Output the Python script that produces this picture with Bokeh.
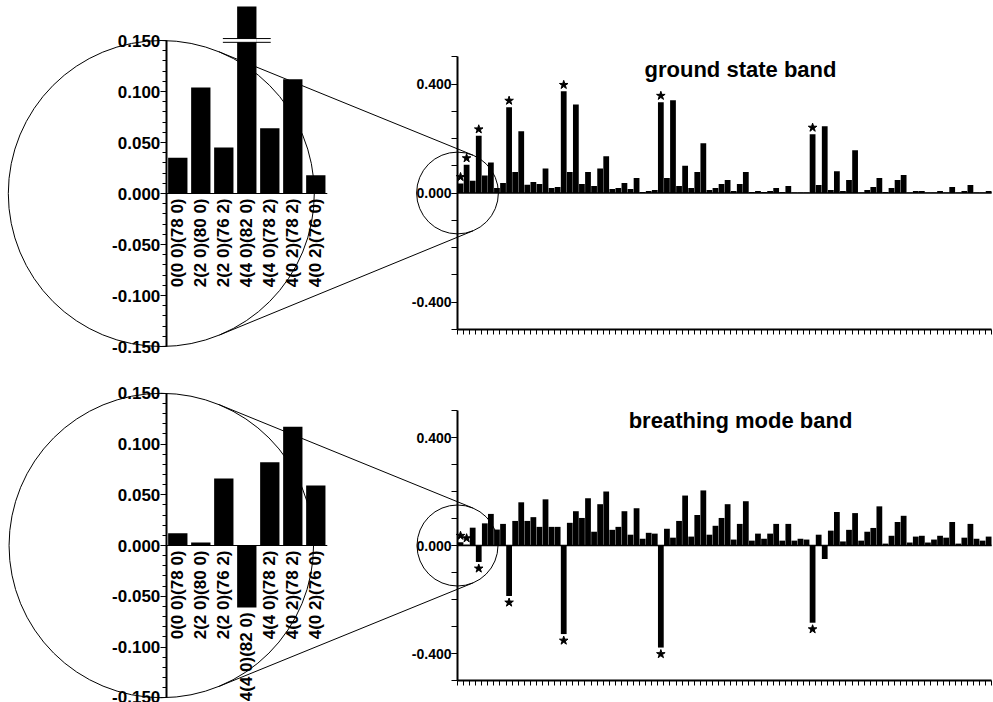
import numpy as np
from bokeh.plotting import figure
from bokeh.models import Range1d, LinearAxis, FixedTicker, PrintfTickFormatter, CustomJSTickFormatter
from bokeh.core.properties import value
from bokeh.embed import file_html
from bokeh.resources import INLINE

# ---------------- data ----------------
ground = [0.035, 0.104, 0.045, 0.210, 0.064, 0.112, 0.018, 0.037, 0.315, 0.077,
          0.227, 0.030, 0.040, 0.033, 0.090, 0.018, 0.022, 0.373, 0.077, 0.325,
          0.033, 0.077, 0.026, 0.090, 0.135, 0.015, 0.018, 0.037, 0.015, 0.055,
          0.004, 0.007, 0.011, 0.333, 0.055, 0.340, 0.026, 0.100, 0.018, 0.077,
          0.183, 0.011, 0.018, 0.033, 0.048, 0.007, 0.033, 0.077, 0.004, 0.007,
          0.004, 0.007, 0.018, 0.004, 0.026, 0.002, 0.002, 0.002, 0.216, 0.029,
          0.245, 0.011, 0.080, 0.007, 0.048, 0.157, 0.002, 0.011, 0.022, 0.055,
          0.004, 0.018, 0.048, 0.066, 0.002, 0.007, 0.007, 0.002, 0.002, 0.007,
          0.002, 0.022, 0.002, 0.007, 0.029, 0.002, 0.002, 0.007]

breathing = [0.012, 0.003, 0.066, -0.061, 0.082, 0.117, 0.059, 0.080, -0.187, 0.091,
             0.160, 0.091, 0.105, 0.069, 0.171, 0.069, 0.069, -0.328, 0.084, 0.127,
             0.102, 0.175, 0.051, 0.153, 0.200, 0.058, 0.069, 0.127, 0.040, 0.138,
             0.025, 0.047, 0.044, -0.378, 0.062, 0.029, 0.091, 0.185, 0.033, 0.113,
             0.204, 0.040, 0.073, 0.102, 0.153, 0.022, 0.080, 0.164, 0.018, 0.044,
             0.025, 0.044, 0.080, 0.018, 0.080, 0.018, 0.025, 0.022, -0.286, 0.040,
             -0.050, 0.055, 0.124, 0.015, 0.058, 0.120, 0.018, 0.051, 0.065, 0.145,
             0.007, 0.036, 0.087, 0.110, 0.011, 0.033, 0.036, 0.011, 0.022, 0.036,
             0.029, 0.087, 0.007, 0.029, 0.080, 0.025, 0.018, 0.033]

star_idx = [0, 1, 3, 8, 17, 33, 58]

zoom_labels = ["0(0 0)(78 0)", "2(2 0)(80 0)", "2(2 0)(76 2)", "4(4 0)(82 0)",
               "4(4 0)(78 2)", "4(0 2)(78 2)", "4(0 2)(76 0)"]

left_ticks = [-0.15, -0.10, -0.05, 0.0, 0.05, 0.10, 0.15]
right_ticks = [-0.4, 0.0, 0.4]
titles = ["ground state band", "breathing mode band"]

# ---------------- layout ----------------
W, H = 993, 702
FONT = value("Liberation Sans")
panels = {
    "tl": dict(x0=165.8, xppu=23.0, y0=193.0, yppu=1020.0),
    "bl": dict(x0=165.8, xppu=23.0, y0=545.0, yppu=1015.0),
    "tr": dict(x0=457.0, xppu=6.07, y0=192.5, yppu=272.5),
    "br": dict(x0=457.0, xppu=6.07, y0=545.0, yppu=270.0),
}

p = figure(width=W, height=H, x_range=Range1d(0, W), y_range=Range1d(H, 0),
           x_axis_location=None, y_axis_location=None, toolbar_location=None,
           output_backend="svg", min_border=0, outline_line_color=None)
p.grid.visible = False

xr, yr = {}, {}
for name, g in panels.items():
    xr[name + "_x"] = Range1d(-0.5 - g["x0"] / g["xppu"], -0.5 + (W - g["x0"]) / g["xppu"])
    yr[name + "_y"] = Range1d(-(H - g["y0"]) / g["yppu"], g["y0"] / g["yppu"])
p.extra_x_ranges = xr
p.extra_y_ranges = yr


def rn(name):
    return dict(x_range_name=name + "_x", y_range_name=name + "_y")


def yaxis(name, ticks, minor, bounds, size, minor_out):
    ax = LinearAxis(fixed_location=-0.5, bounds=bounds,
                    ticker=FixedTicker(ticks=ticks, minor_ticks=minor),
                    formatter=PrintfTickFormatter(format="%.3f"), **rn(name))
    ax.axis_line_width = 2
    ax.axis_line_color = "black"
    ax.major_tick_in = 0
    ax.major_tick_out = 6
    ax.minor_tick_in = 0
    ax.minor_tick_out = minor_out
    ax.major_tick_line_color = "black"
    ax.minor_tick_line_color = "black"
    ax.major_label_standoff = 0
    ax.major_label_text_font = "Liberation Sans"
    ax.major_label_text_font_style = "bold"
    ax.major_label_text_font_size = size
    ax.major_label_text_color = "black"
    p.add_layout(ax, "left")


# ---------------- zoomed (left) panels ----------------
nz = len(zoom_labels)
zx = np.arange(nz)
left_minor = list(np.round(np.arange(-0.15, 0.1501, 0.01), 3))
for name, series in (("tl", ground), ("bl", breathing)):
    g = panels[name]
    vals = np.asarray(series[:nz])
    clip_top = g["y0"] / g["yppu"] - 6.0 / g["yppu"]   # frame top edge of the inset
    p.vbar(x=zx, top=np.minimum(vals, clip_top), bottom=0, width=0.84,
           fill_color="black", line_color=None, **rn(name))
    p.segment(x0=[-0.5], y0=[0], x1=[nz - 0.5], y1=[0], line_color="black",
              line_width=1, **rn(name))
    p.text(x=zx, y=np.minimum(vals, 0), text=zoom_labels, angle=np.pi / 2,
           text_align="right", text_baseline="middle", y_offset=5,
           text_font=FONT, text_font_style="bold", text_font_size="17px",
           text_color="black", **rn(name))
    yaxis(name, left_ticks, left_minor, (left_ticks[0], left_ticks[-1]), "17px", 4)
    # axis break on bars exceeding the inset range
    big = np.where(vals > left_ticks[-1])[0]
    if len(big):
        yb = left_ticks[-1]
        p.quad(left=big - 0.43, right=big + 0.43, bottom=yb - 0.0016, top=yb + 0.0018,
               fill_color="white", line_color=None, **rn(name))
        for yy in (yb - 0.0018, yb + 0.0019):
            p.segment(x0=big - 1.04, y0=[yy] * len(big), x1=big + 1.04, y1=[yy] * len(big),
                      line_color="black", line_width=1, **rn(name))

# ---------------- full (right) panels ----------------
right_minor = list(np.round(np.arange(-0.5, 0.501, 0.1), 2))
for name, series in (("tr", ground), ("br", breathing)):
    g = panels[name]
    vals = np.asarray(series)
    n = len(vals)
    xs = np.arange(n)
    p.vbar(x=xs, top=vals, bottom=0, width=0.95, fill_color="black", line_color=None, **rn(name))
    p.segment(x0=[-0.5], y0=[0], x1=[n - 0.5], y1=[0], line_color="black",
              line_width=1.5, **rn(name))
    si = np.asarray(star_idx)
    sv = vals[si]
    off = 6.5 / g["yppu"]
    p.scatter(x=si, y=sv + np.where(sv >= 0, off, -off), marker="star", size=9,
              fill_color="black", line_color="black", **rn(name))
    yaxis(name, right_ticks, right_minor, (-0.5, 0.5), "14px", 6)
    xa = LinearAxis(fixed_location=-0.5, bounds=(-0.5, n - 0.5),
                    ticker=FixedTicker(ticks=list(np.arange(n + 1) - 0.5), minor_ticks=[]),
                    formatter=CustomJSTickFormatter(code="return ''"),
                    **rn(name))
    xa.axis_line_width = 2
    xa.axis_line_color = "black"
    xa.major_tick_in = 0
    xa.major_tick_out = 5
    xa.minor_tick_out = 0
    xa.major_tick_line_color = "black"
    xa.major_label_standoff = 0
    p.add_layout(xa, "below")

# ---------------- magnifier circles and connecting lines ----------------
for big_name, small_name in (("tl", "tr"), ("bl", "br")):
    gb, gs = panels[big_name], panels[small_name]
    c1 = np.array([gb["x0"] - 5.0, gb["y0"]])
    r1 = 0.15 * gb["yppu"]
    c2 = np.array([gs["x0"], gs["y0"]])
    r2 = 0.15 * gs["yppu"]
    p.circle(x=[c1[0], c2[0]], y=[c1[1], c2[1]], radius=[r1, r2],
             fill_color=None, line_color="black", line_width=1)
    d = c2 - c1
    dist = np.hypot(*d)
    u = d / dist
    perp = np.array([-u[1], u[0]])
    s = (r1 - r2) / dist
    c = np.sqrt(1 - s * s)
    for sg in (1, -1):
        nvec = s * u + sg * c * perp
        a = c1 + r1 * nvec
        b = c2 + r2 * nvec
        p.line(x=[a[0], b[0]], y=[a[1], b[1]], line_color="black", line_width=1)

# ---------------- titles ----------------
p.text(x=[740, 740], y=[69, 420], text=titles, text_align="center", text_baseline="middle",
       text_font=FONT, text_font_style="bold", text_font_size="22px", text_color="black")

open("out.html", "w").write(file_html(p, INLINE))
